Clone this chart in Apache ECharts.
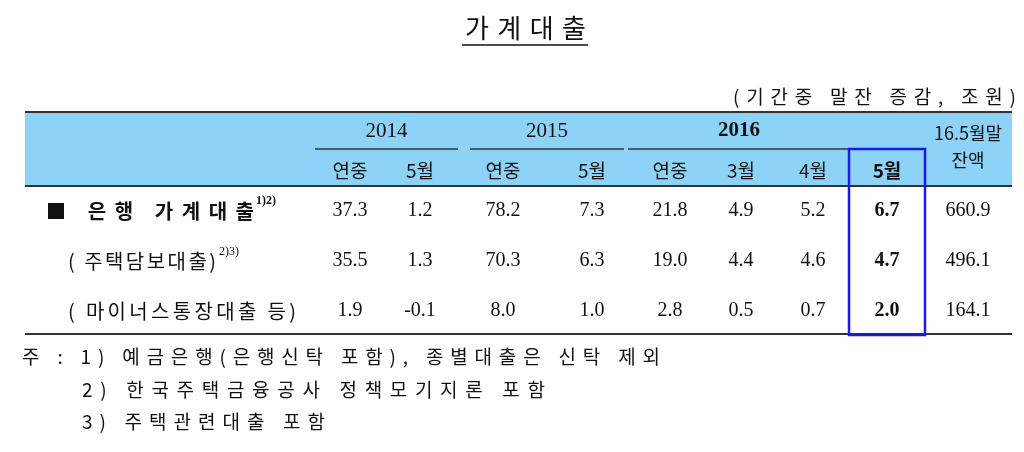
<!DOCTYPE html><html><head><meta charset="utf-8"><script src="https://cdn.jsdelivr.net/npm/echarts@6/dist/echarts.min.js"></script>
<style>html,body{margin:0;background:#fff}#c{width:1024px;height:452px}</style></head><body><div id="c"></div><script>
const title = '가계대출';
const unit = '(기간중 말잔 증감, 조원)';
const years = [['2014',false],['2015',false],['2016',true]];
const subHeads = ['연중','5월','연중','5월','연중','3월','4월','5월'];
const lastHead = ['16.5월말','잔액'];
const rowLabels = ['■ 은행 가계대출','( 주택담보대출)','( 마이너스통장대출 등)'];
const rowSups = ['1)2)','2)3)',''];
const row1 = [37.3,1.2,78.2,7.3,21.8,4.9,5.2,6.7,660.9];
const row2 = [35.5,1.3,70.3,6.3,19.0,4.4,4.6,4.7,496.1];
const row3 = [1.9,-0.1,8.0,1.0,2.8,0.5,0.7,2.0,164.1];
const notes = ['주 : 1) 예금은행(은행신탁 포함), 종별대출은 신탁 제외','2) 한국주택금융공사 정책모기지론 포함','3) 주택관련대출 포함'];

const colX=[350,420,503,592,670,741,813,887,968];
const rowY=[211,261,311];
const KR='"Noto Sans CJK KR"', NUM='"Liberation Serif", serif';
const g=[];
const T=(x,y,s,o)=>g.push({type:'text',x,y,style:Object.assign({text:s,fill:'#111',font:'19px '+KR,textAlign:'center',textVerticalAlign:'middle'},o||{})});
const L=(x1,y1,x2,y2,c,w)=>g.push({type:'line',shape:{x1,y1,x2,y2},style:{stroke:c||'#222',lineWidth:w||1.5}});
const ctx=document.createElement('canvas').getContext('2d');
function fit(x1,x2,y,str,font){
  ctx.font=font;const chars=[...str];const ws=chars.map(c=>ctx.measureText(c).width);
  const tot=ws.reduce((a,b)=>a+b,0);const sp=(x2-x1-tot)/(chars.length-1);
  let x=x1;chars.forEach((c,i)=>{if(c!==' ')T(x,y,c,{textAlign:'left',font});x+=ws[i]+sp;});
}
g.push({type:'rect',shape:{x:25,y:112,width:987,height:74},style:{fill:'#8DD3F7'}});
L(25,112,1012,112,'#333',2);L(25,186,1012,186,'#333',2);L(25,334,1012,334,'#333',2);
fit(465,586,28,title,'26px '+KR);L(462,45,588,45,'#111',1.5);
fit(733,1016,97,unit,'19px '+KR);
const yr=[[315,458],[470,624],[628,850]];
years.forEach((y,i)=>{T((yr[i][0]+yr[i][1])/2,131,y[0],{font:(y[1]?'bold ':'')+'21px '+NUM});L(yr[i][0],149,yr[i][1],149,'#333',1.5);});
subHeads.forEach((s,i)=>T(colX[i],171,s,{font:(i==7?'bold ':'')+'19px '+KR}));
T(968,133,lastHead[0],{font:'18px '+KR});T(968,160,lastHead[1],{font:'18px '+KR});
const lx=[[46,254],[68,216],[68,296]];
[row1,row2,row3].forEach((r,j)=>{
  fit(lx[j][0],lx[j][1],rowY[j],rowLabels[j],(j==0?'bold ':'')+'20px '+KR);
  r.forEach((v,i)=>T(colX[i],rowY[j],v.toFixed(1),{font:(i==7?'bold ':'')+'20px '+NUM}));
});
T(256,201,rowSups[0],{textAlign:'left',font:'bold 12px '+NUM});
T(219,252,rowSups[1],{textAlign:'left',font:'12px '+NUM});
g.push({type:'rect',shape:{x:849,y:149,width:76,height:186},style:{fill:'none',stroke:'#1a1ae6',lineWidth:2.5}});
fit(22,660,357,notes[0],'19px '+KR);
fit(82,545,390,notes[1],'19px '+KR);
fit(82,325,422,notes[2],'19px '+KR);
const ch=echarts.init(document.getElementById('c'));
ch.setOption({animation:false,graphic:g});
</script></body></html>
